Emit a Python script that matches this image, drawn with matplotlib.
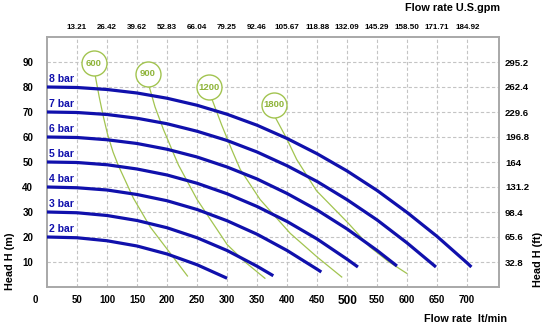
import matplotlib
matplotlib.use("Agg")
import matplotlib.pyplot as plt

plt.rcParams['font.family'] = ['Liberation Sans', 'DejaVu Sans']

# Axis ticks and labels
flow_ticks = [50, 100, 150, 200, 250, 300, 350, 400, 450, 500, 550, 600, 650, 700]
gpm_labels = ['13.21', '26.42', '39.62', '52.83', '66.04', '79.25', '92.46',
              '105.67', '118.88', '132.09', '145.29', '158.50', '171.71', '184.92']
head_ticks = [10, 20, 30, 40, 50, 60, 70, 80, 90]
ft_labels = ['32.8', '65.6', '98.4', '131.2', '164', '196.8', '229.6', '262.4', '295.2']

# Pump curves at each air supply pressure: flow (lt/min) vs head (m)
bar_labels = ['2 bar', '3 bar', '4 bar', '5 bar', '6 bar', '7 bar', '8 bar']
q_2bar = [0, 50, 100, 150, 200, 250, 300]
h_2bar = [20, 19.7, 18.5, 16.4, 13.2, 8.9, 3.5]
q_3bar = [0, 50, 100, 150, 200, 250, 300, 350, 377]
h_3bar = [30, 29.7, 28.6, 26.6, 23.7, 19.7, 14.6, 8.3, 4.5]
q_4bar = [0, 50, 100, 150, 200, 250, 300, 350, 400, 450, 457]
h_4bar = [40, 39.7, 38.8, 37.0, 34.5, 31.0, 26.5, 21.1, 14.6, 7.1, 6.0]
q_5bar = [0, 50, 100, 150, 200, 250, 300, 350, 400, 450, 500, 518]
h_5bar = [50, 49.8, 48.9, 47.2, 44.8, 41.5, 37.3, 32.2, 26.2, 19.2, 11.1, 8.0]
q_6bar = [0, 50, 100, 150, 200, 250, 300, 350, 400, 450, 500, 550, 583]
h_6bar = [60, 59.8, 58.9, 57.4, 55.1, 52.0, 48.0, 43.2, 37.4, 30.8, 23.2, 14.6, 8.4]
q_7bar = [0, 50, 100, 150, 200, 250, 300, 350, 400, 450, 500, 550, 600, 648]
h_7bar = [70, 69.8, 69.0, 67.5, 65.3, 62.3, 58.6, 54.0, 48.5, 42.2, 34.9, 26.8, 17.6, 8.0]
q_8bar = [0, 50, 100, 150, 200, 250, 300, 350, 400, 450, 500, 550, 600, 650, 700, 707]
h_8bar = [80, 79.8, 79.0, 77.6, 75.5, 72.7, 69.1, 64.7, 59.4, 53.3, 46.4, 38.6, 29.8, 20.2, 9.6, 8.0]

# Air consumption curves (Nl/min)
air_labels = ['600', '900', '1200', '1800']
air_label_q = [78, 168, 270, 378]
air_label_h = [89.5, 85.2, 79.9, 73.0]
q_air600 = [80, 87, 94, 101, 110, 119, 144, 172, 205, 234]
h_air600 = [85, 76, 68, 61, 54, 48.5, 35.5, 24, 13.6, 4.4]
q_air900 = [170, 180, 194, 208, 219, 250, 275, 300, 330, 363]
h_air900 = [80.4, 72, 63, 55, 48.8, 35, 26, 17, 10, 3.5]
q_air1200 = [275, 291, 308, 322, 355, 405, 450, 491]
h_air1200 = [75, 64.8, 54.8, 47, 35, 21.5, 12, 4]
q_air1800 = [380, 399, 416, 449, 502, 538, 570, 599]
h_air1800 = [68, 59.5, 51, 38.5, 25.5, 16, 10, 5.5]

blue = '#1010ac'
green = '#a2c450'
green_text = '#8fb43a'

fig = plt.figure(figsize=(5.5, 3.33), dpi=100)
ax = fig.add_axes([47 / 550, 46 / 333, 452 / 550, 250 / 333])
ax.set_xlim(0, 753)
ax.set_ylim(0, 100)

ax.grid(True, linestyle=(0, (3, 2)), color='#c4c4c4', linewidth=0.8, zorder=0)
ax.set_axisbelow(True)
for s in ax.spines.values():
    s.set_color('#a8a8a8')
    s.set_linewidth(1.4)

# Air consumption lines with their circled labels
air_q = [q_air600, q_air900, q_air1200, q_air1800]
air_h = [h_air600, h_air900, h_air1200, h_air1800]
for lab, lq, lh, q, h in zip(air_labels, air_label_q, air_label_h, air_q, air_h):
    ax.plot([lq] + q, [lh] + h, color=green, linewidth=0.9, zorder=2)
    ax.plot([lq], [lh], 'o', ms=18, mfc='white', mec=green, mew=1.0, zorder=4)
    ax.text(lq, lh, lab, ha='center', va='center', color=green_text,
            fontsize=6.8, fontweight='bold', zorder=5)

# Pressure curves
bar_q = [q_2bar, q_3bar, q_4bar, q_5bar, q_6bar, q_7bar, q_8bar]
bar_h = [h_2bar, h_3bar, h_4bar, h_5bar, h_6bar, h_7bar, h_8bar]
for lab, q, h in zip(bar_labels, bar_q, bar_h):
    ax.plot(q, h, color=blue, linewidth=2.3, zorder=3, solid_capstyle='butt')
    ax.text(3, h[0] + 1.2, lab, ha='left', va='bottom', color=blue,
            fontsize=7.5, fontweight='bold', zorder=5)

# Bottom axis: lt/min
ax.set_xticks(flow_ticks)
ax.set_xticklabels([str(t) for t in flow_ticks])
ax.tick_params(axis='x', length=0, pad=5.5, labelsize=7)
for t in ax.get_xticklabels():
    t.set_fontweight('bold')
    if t.get_text() == '500':
        t.set_fontsize(8.5)
ax.annotate('0', xy=(0, 0), xycoords='data', xytext=(-12, -13),
            textcoords='offset pixels', ha='center', va='center',
            fontsize=7, fontweight='bold')

# Left axis: metres
ax.set_yticks(head_ticks)
ax.set_yticklabels([str(t) for t in head_ticks])
ax.tick_params(axis='y', length=0, pad=10, labelsize=7)
for t in ax.get_yticklabels():
    t.set_fontweight('bold')

# Top axis: U.S. gpm
axt = ax.twiny()
axt.set_xlim(ax.get_xlim())
axt.set_xticks(flow_ticks)
axt.set_xticklabels(gpm_labels)
axt.tick_params(axis='x', length=0, pad=4.5, labelsize=5.8)
for t in axt.get_xticklabels():
    t.set_fontweight('bold')

# Right axis: feet
axr = ax.twinx()
axr.set_ylim(ax.get_ylim())
axr.set_yticks(head_ticks)
axr.set_yticklabels(ft_labels)
axr.tick_params(axis='y', length=0, pad=4.3, labelsize=6.8)
for t in axr.get_yticklabels():
    t.set_fontweight('bold')
for a in (axt, axr):
    for s in a.spines.values():
        s.set_visible(False)

fig.text(500 / 550, 1 - 8 / 333, 'Flow rate U.S.gpm', ha='right', va='center',
         fontsize=7.8, fontweight='bold')
fig.text(465 / 550, 1 - 319 / 333, 'Flow rate  lt/min', ha='center', va='center',
         fontsize=7.8, fontweight='bold')
fig.text(10 / 550, 1 - 261 / 333, 'Head H (m)', ha='center', va='center',
         rotation=90, fontsize=7.8, fontweight='bold')
fig.text(538 / 550, 1 - 259 / 333, 'Head H (ft)', ha='center', va='center',
         rotation=90, fontsize=7.8, fontweight='bold')

fig.savefig('out.png', dpi=100, facecolor='white')
